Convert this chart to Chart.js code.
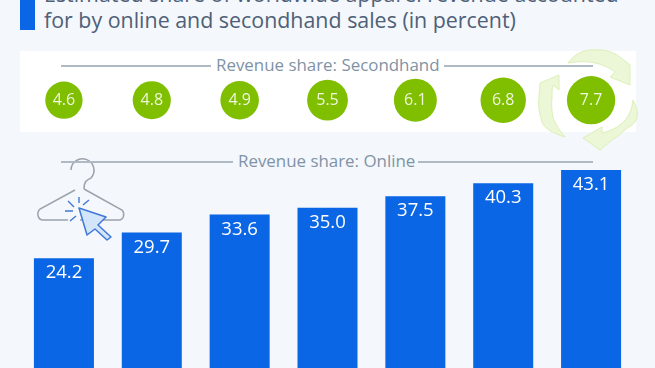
<!DOCTYPE html>
<html>
<head>
<meta charset="utf-8">
<script src="https://cdn.jsdelivr.net/npm/chart.js@4"></script>
<style>
  html, body { margin: 0; width: 655px; height: 368px; overflow: hidden; background: #f4f7fb; }
  body { position: relative; font-family: "Open Sans", sans-serif; }
  .abs { position: absolute; }
  #accent { left: 20px; top: 0; width: 15px; height: 30px; background: #0a66e4; }
  .title { left: 44px; font-size: 21.4px; line-height: 26px; color: #4e6078; white-space: nowrap; }
  #panel { left: 20px; top: 51px; width: 616px; height: 81px; background: #fff; }
  .rule { height: 2px; background: #b0bac4; }
  .head { font-size: 16.9px; line-height: 20px; color: #8093a6; white-space: nowrap; }
  #chartWrap { left: 0; top: 0; width: 655px; height: 371px; }
</style>
</head>
<body>
<div class="abs" id="accent"></div>
<div class="abs title" style="top:-19px">Estimated share of worldwide apparel revenue accounted</div>
<div class="abs title" style="top:7px">for by online and secondhand sales (in percent)</div>
<div class="abs" id="panel"></div>

<svg class="abs" style="left:0;top:0" width="655" height="368">
  <g fill="#ecf7d8" stroke="#dcefb8" stroke-width="1">
    <path d="M568 63 C575 53 585 50 592 50 C604 49 614 52 620 57 L630 65 L630 85 L610 77 L615 72 C608 66 597 63 590 62 C582 61 575 62 568 63 Z"/>
    <path d="M633 100 C637 108 638 112 637 117 C636 122 632 126 627 128 L618 136 L612 140 L600 150 L583 138 L602 127 L602 133 C610 131 616 128 620 125 C628 119 632 110 633 100 Z"/>
    <path d="M565 137 C552 133 544 128 542 122 C539 113 538 105 539 97 C539 92 540 87 540 83 L559 75 L559 90 L553 85 C552 90 552 93 552 97 C551 105 552 112 553 118 C556 125 560 131 565 137 Z"/>
  </g>
  <g fill="none" stroke="#9aa3ad" stroke-width="1.5">
    <path d="M71 170 A11.5 11.5 0 1 1 91 178 C87 180 84 181 84 189"/>
    <path d="M84 189 L122 210 C125 213 124 220 119 220 L80 220"/>
    <path d="M75 190 L40 209 C36 213 38 220 43 220 L68 220"/>
  </g>
  <g fill="none" stroke="#3f78d8" stroke-width="1.4">
    <path d="M79 197 L79 203 M89 200 L83 205 M68 201 L74 207 M65 211 L73 211 M70 221 L76 216"/>
  </g>
  <path d="M79 208 L106 217 L98 225 L111 237 L107 240 L95 229 L87 235 Z" fill="#d2e5fa" stroke="#3f78d8" stroke-width="1.5" stroke-linejoin="round"/>
</svg>

<div class="abs rule" style="left:61px;top:65px;width:150px"></div>
<div class="abs head" style="left:216px;top:55px">Revenue share: Secondhand</div>
<div class="abs rule" style="left:444px;top:65px;width:149px"></div>
<div class="abs rule" style="left:61px;top:161px;width:172px"></div>
<div class="abs head" style="left:238px;top:151px">Revenue share: Online</div>
<div class="abs rule" style="left:418px;top:161px;width:175px"></div>

<div class="abs" id="chartWrap"><canvas id="chart"></canvas></div>

<script>
const categories = ["1", "2", "3", "4", "5", "6", "7"];
const onlineShare = [24.2, 29.7, 33.6, 35.0, 37.5, 40.3, 43.1];
const secondhandShare = [4.6, 4.8, 4.9, 5.5, 6.1, 6.8, 7.7];
const circleRow = 58.1;

const valueLabels = {
  id: "valueLabels",
  afterDatasetsDraw(chart) {
    const ctx = chart.ctx;
    ctx.save();
    ctx.textAlign = "center";
    ctx.textBaseline = "middle";
    ctx.fillStyle = "#fff";
    ctx.font = '500 18.5px "Open Sans", sans-serif';
    chart.getDatasetMeta(0).data.forEach((el, i) => {
      ctx.fillText(onlineShare[i].toFixed(1), el.x, el.y + 15);
    });
    ctx.fillStyle = "#eef7dc";
    ctx.font = '500 16px "Open Sans", sans-serif';
    chart.getDatasetMeta(1).data.forEach((el, i) => {
      ctx.fillText(secondhandShare[i].toFixed(1), el.x, el.y);
    });
    ctx.restore();
  }
};

new Chart(document.getElementById("chart"), {
  data: {
    labels: categories,
    datasets: [{
      type: "bar",
      data: onlineShare,
      backgroundColor: "#0a66e4",
      categoryPercentage: 1,
      barPercentage: 0.683
    }, {
      type: "bubble",
      data: secondhandShare.map((v, i) => ({ x: categories[i], y: circleRow, v: v })),
      backgroundColor: "#7fbf00",
      borderWidth: 0,
      radius: (c) => 8.7 * Math.sqrt(c.raw.v)
    }]
  },
  options: {
    responsive: true,
    maintainAspectRatio: false,
    animation: false,
    layout: { autoPadding: false, padding: { left: 20, right: 20, top: 0, bottom: 0 } },
    plugins: { legend: { display: false }, tooltip: { enabled: false } },
    scales: {
      x: { display: false, offset: true, type: "category" },
      y: { display: false, min: 0, max: 79.6 }
    }
  },
  plugins: [valueLabels]
});
</script>
</body>
</html>
